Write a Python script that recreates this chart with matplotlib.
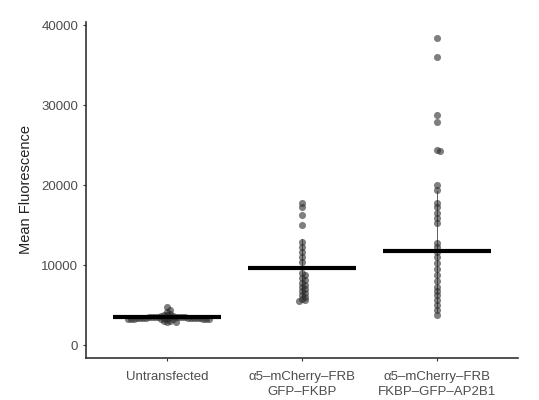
import numpy as np
import matplotlib.pyplot as plt

plt.rcParams['font.family'] = ['Liberation Sans', 'DejaVu Sans']

# categories and measured mean fluorescence per cell
groups = ["Untransfected",
          "α5–mCherry–FRB\nGFP–FKBP",
          "α5–mCherry–FRB\nFKBP–GFP–AP2B1"]

untransfected = [4700, 4400, 4100, 3900, 3800, 3700, 3600, 3600, 3500, 3500,
                 3500, 3500, 3500, 3450, 3450, 3450, 3450, 3400, 3400, 3400,
                 3400, 3400, 3400, 3350, 3350, 3350, 3350, 3300, 3300, 3300,
                 3300, 3300, 3250, 3250, 3200, 3200, 3000, 2950, 2900, 2900]
gfp_fkbp = [17700, 17300, 16200, 15000, 12900, 12300, 11600, 11000, 10400,
            9000, 8700, 8400, 8100, 7800, 7500, 7200, 7000, 6700, 6500,
            6200, 6000, 5800, 5600, 5500]
fkbp_ap2b1 = [38400, 36000, 28700, 27900, 24400, 24200, 20000, 19400, 17700,
              17200, 16500, 15900, 15200, 12800, 12200, 11600, 11000, 10300,
              9500, 8800, 8000, 7300, 6700, 6200, 5600, 5000, 4400, 3800]

means = [3450, 9600, 11800]
sds = [400, 3600, 7500]

fig = plt.figure(figsize=(5.39, 4.0), dpi=100)
ax = fig.add_axes([86 / 539, 42 / 400, 432 / 539, 336 / 400])
ax.set_xlim(0.4, 3.6)
ax.set_ylim(-1625, 40375)


def swarm(x0, vals, diam=3.0):
    # simple beeswarm in pixel space
    placed = []
    xs = []
    px0 = ax.transData.transform((x0, 0))[0]
    for v in vals:
        py = ax.transData.transform((x0, v))[1]
        k = 0
        while True:
            off = (k + 1) // 2 * diam * (1 if k % 2 else -1)
            if all((off - ox) ** 2 + (py - oy) ** 2 >= diam ** 2 for ox, oy in placed):
                break
            k += 1
        placed.append((off, py))
        xs.append(ax.transData.inverted().transform((px0 + off, py))[0])
    return xs


data = [untransfected, gfp_fkbp, fkbp_ap2b1]
for i, vals in enumerate(data):
    x = i + 1
    ax.plot([x, x], [means[i] - sds[i], means[i] + sds[i]], color="#444444",
            lw=0.6, zorder=1)
    xs = swarm(x, vals)
    ax.scatter(xs, vals, s=26, color="#2a2a2a", alpha=0.6, lw=0, zorder=2)
    ax.plot([x - 0.4, x + 0.4], [means[i], means[i]], color="black",
            lw=3, solid_capstyle="butt", zorder=3)

ax.set_xticks([1, 2, 3])
ax.set_xticklabels(groups, fontsize=9.5, color="#4d4d4d", linespacing=1.3)
ax.set_yticks([0, 10000, 20000, 30000, 40000])
ax.set_yticklabels(["0", "10000", "20000", "30000", "40000"], fontsize=9.5,
                   color="#4d4d4d")
ax.tick_params(length=2.5, width=0.8, color="#333333")
ax.tick_params(axis="x", pad=7)
ax.tick_params(axis="y", pad=3)
ax.set_ylabel("Mean Fluorescence", fontsize=10.5, color="#222222", labelpad=6)

for s in ["top", "right"]:
    ax.spines[s].set_visible(False)
for s in ["left", "bottom"]:
    ax.spines[s].set_color("#333333")
    ax.spines[s].set_linewidth(1.2)

fig.savefig("out.png", dpi=100)
